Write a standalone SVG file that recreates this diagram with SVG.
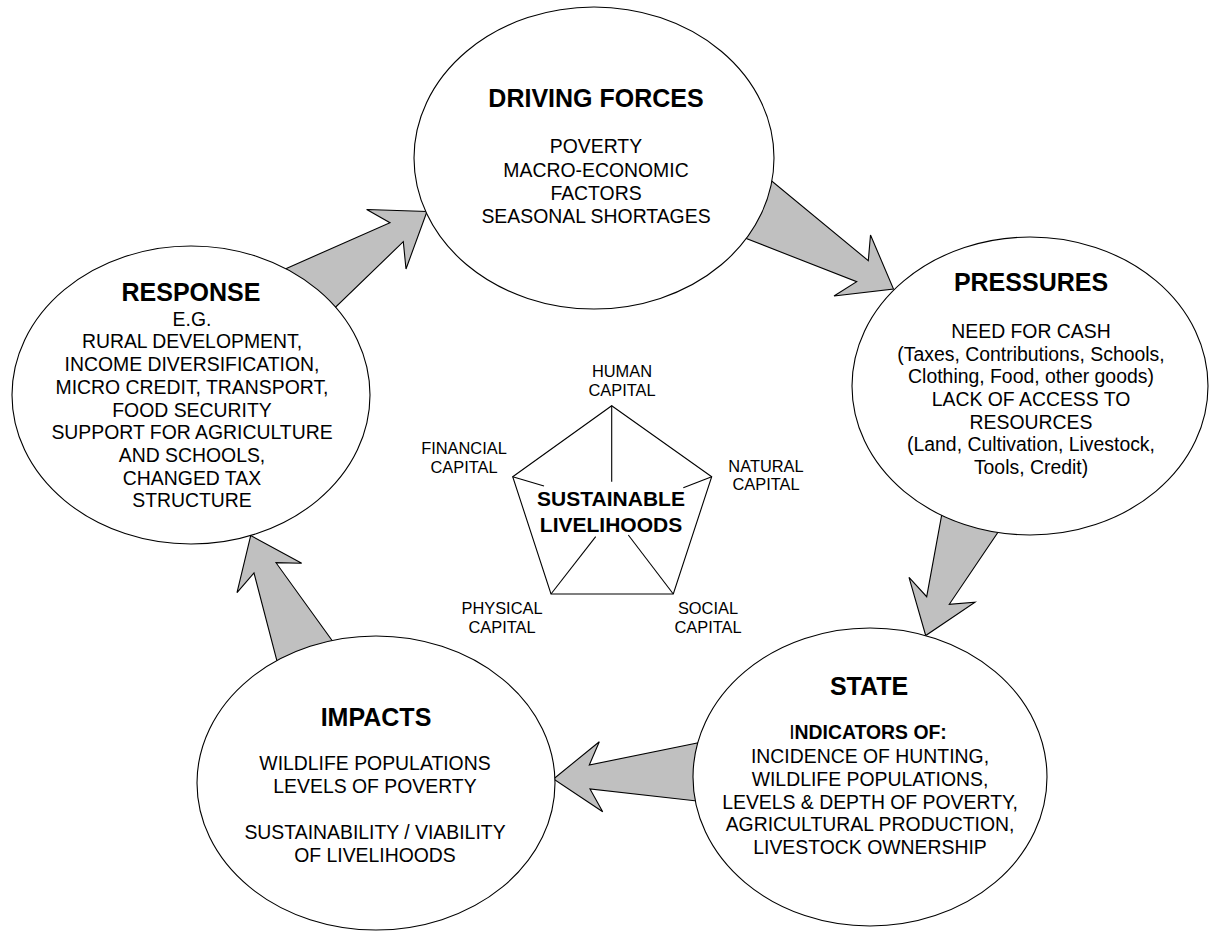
<svg xmlns="http://www.w3.org/2000/svg" width="1209" height="931" viewBox="0 0 1209 931">
<style>
.arrow{fill:#C0C0C0;stroke:#000;stroke-width:1.1;stroke-linejoin:miter}
.node{fill:#fff;stroke:#000;stroke-width:1.1}
text{font-family:"Liberation Sans",Arial,sans-serif;fill:#000;text-anchor:middle}
.title{font-size:25px;font-weight:bold}
.body{font-size:19.4px}
.cap{font-size:16.4px}
.center{font-size:21px;font-weight:bold}
.pent{fill:none;stroke:#000;stroke-width:1.1}
</style>
<rect width="1209" height="931" fill="#fff"/>
<g id="connectors">
<polygon class="arrow" points="263.8,278.4 390,222.7 366.7,209.5 427,211.5 406,269 403.3,241.7 318.7,323.4"/>
<polygon class="arrow" points="752.4,165.1 868.3,260.7 870.5,235 893.5,289 834,296 856.7,281.7 722.4,229.2"/>
<polygon class="arrow" points="946.2,490.4 926.7,596.7 909,577.3 925.7,635.5 975,602.3 949.3,604.3 1012.3,511"/>
<polygon class="arrow" points="720.5,738.3 589.3,765 599.3,741.7 553.5,779 602.7,811.7 590,789 718.8,803.5"/>
<polygon class="arrow" points="283,684.2 254,573 237,592.7 250.7,535.5 301.7,563.3 276,562.7 346.3,660.3"/>
</g>
<g id="driving-forces">
<ellipse class="node" cx="594" cy="158" rx="180" ry="151"/>
<text class="title" x="596" y="107">DRIVING FORCES</text>
<text class="body" x="596" y="153">POVERTY</text>
<text class="body" x="596" y="176.5">MACRO-ECONOMIC</text>
<text class="body" x="596" y="200">FACTORS</text>
<text class="body" x="596" y="223">SEASONAL SHORTAGES</text>
</g>
<g id="pressures">
<ellipse class="node" cx="1030" cy="386" rx="178" ry="149"/>
<text class="title" x="1031" y="291">PRESSURES</text>
<text class="body" x="1031" y="338">NEED FOR CASH</text>
<text class="body" x="1031" y="360.5">(Taxes, Contributions, Schools,</text>
<text class="body" x="1031" y="383">Clothing, Food, other goods)</text>
<text class="body" x="1031" y="406">LACK OF ACCESS TO</text>
<text class="body" x="1031" y="428.5">RESOURCES</text>
<text class="body" x="1031" y="451">(Land, Cultivation, Livestock,</text>
<text class="body" x="1031" y="473.5">Tools, Credit)</text>
</g>
<g id="state">
<ellipse class="node" cx="870" cy="777" rx="177" ry="149"/>
<text class="title" x="869" y="695">STATE</text>
<text class="body" x="868" y="739"><tspan>I</tspan><tspan font-weight="bold">NDICATORS OF:</tspan></text>
<text class="body" x="870" y="762.5">INCIDENCE OF HUNTING,</text>
<text class="body" x="870" y="785.5">WILDLIFE POPULATIONS,</text>
<text class="body" x="870" y="808.5">LEVELS &amp; DEPTH OF POVERTY,</text>
<text class="body" x="870" y="831">AGRICULTURAL PRODUCTION,</text>
<text class="body" x="870" y="853.5">LIVESTOCK OWNERSHIP</text>
</g>
<g id="impacts">
<ellipse class="node" cx="376" cy="783" rx="179" ry="147"/>
<text class="title" x="376" y="726">IMPACTS</text>
<text class="body" x="375" y="769.5">WILDLIFE POPULATIONS</text>
<text class="body" x="375" y="792.5">LEVELS OF POVERTY</text>
<text class="body" x="375" y="839">SUSTAINABILITY / VIABILITY</text>
<text class="body" x="375" y="862">OF LIVELIHOODS</text>
</g>
<g id="response">
<ellipse class="node" cx="191" cy="395" rx="179" ry="149"/>
<text class="title" x="191" y="301">RESPONSE</text>
<text class="body" x="192" y="325.5">E.G.</text>
<text class="body" x="192" y="348.3">RURAL DEVELOPMENT,</text>
<text class="body" x="192" y="371">INCOME DIVERSIFICATION,</text>
<text class="body" x="192" y="393.8">MICRO CREDIT, TRANSPORT,</text>
<text class="body" x="192" y="416.5">FOOD SECURITY</text>
<text class="body" x="192" y="439.2">SUPPORT FOR AGRICULTURE</text>
<text class="body" x="192" y="462">AND SCHOOLS,</text>
<text class="body" x="192" y="484.7">CHANGED TAX</text>
<text class="body" x="192" y="507.4">STRUCTURE</text>
</g>
<g id="sustainable-livelihoods">
<polygon class="pent" points="611.7,405.7 711.7,476.7 673.3,594 551,594 512.7,476.7"/>
<line class="pent" x1="611.7" y1="405.7" x2="611.7" y2="481.7"/>
<line class="pent" x1="711.7" y1="476.7" x2="683.3" y2="487.7"/>
<line class="pent" x1="512.7" y1="476.7" x2="544" y2="486"/>
<line class="pent" x1="551" y1="594" x2="595.7" y2="536.7"/>
<line class="pent" x1="673.3" y1="594" x2="628.3" y2="535"/>
<text class="center" x="611" y="505.5">SUSTAINABLE</text>
<text class="center" x="611" y="531.5">LIVELIHOODS</text>
<text class="cap" x="622" y="376.5">HUMAN</text>
<text class="cap" x="622" y="395.5">CAPITAL</text>
<text class="cap" x="464" y="454">FINANCIAL</text>
<text class="cap" x="464" y="472.5">CAPITAL</text>
<text class="cap" x="766" y="471.5">NATURAL</text>
<text class="cap" x="766" y="490">CAPITAL</text>
<text class="cap" x="502" y="614">PHYSICAL</text>
<text class="cap" x="502" y="633">CAPITAL</text>
<text class="cap" x="708" y="614">SOCIAL</text>
<text class="cap" x="708" y="633">CAPITAL</text>
</g>
</svg>
